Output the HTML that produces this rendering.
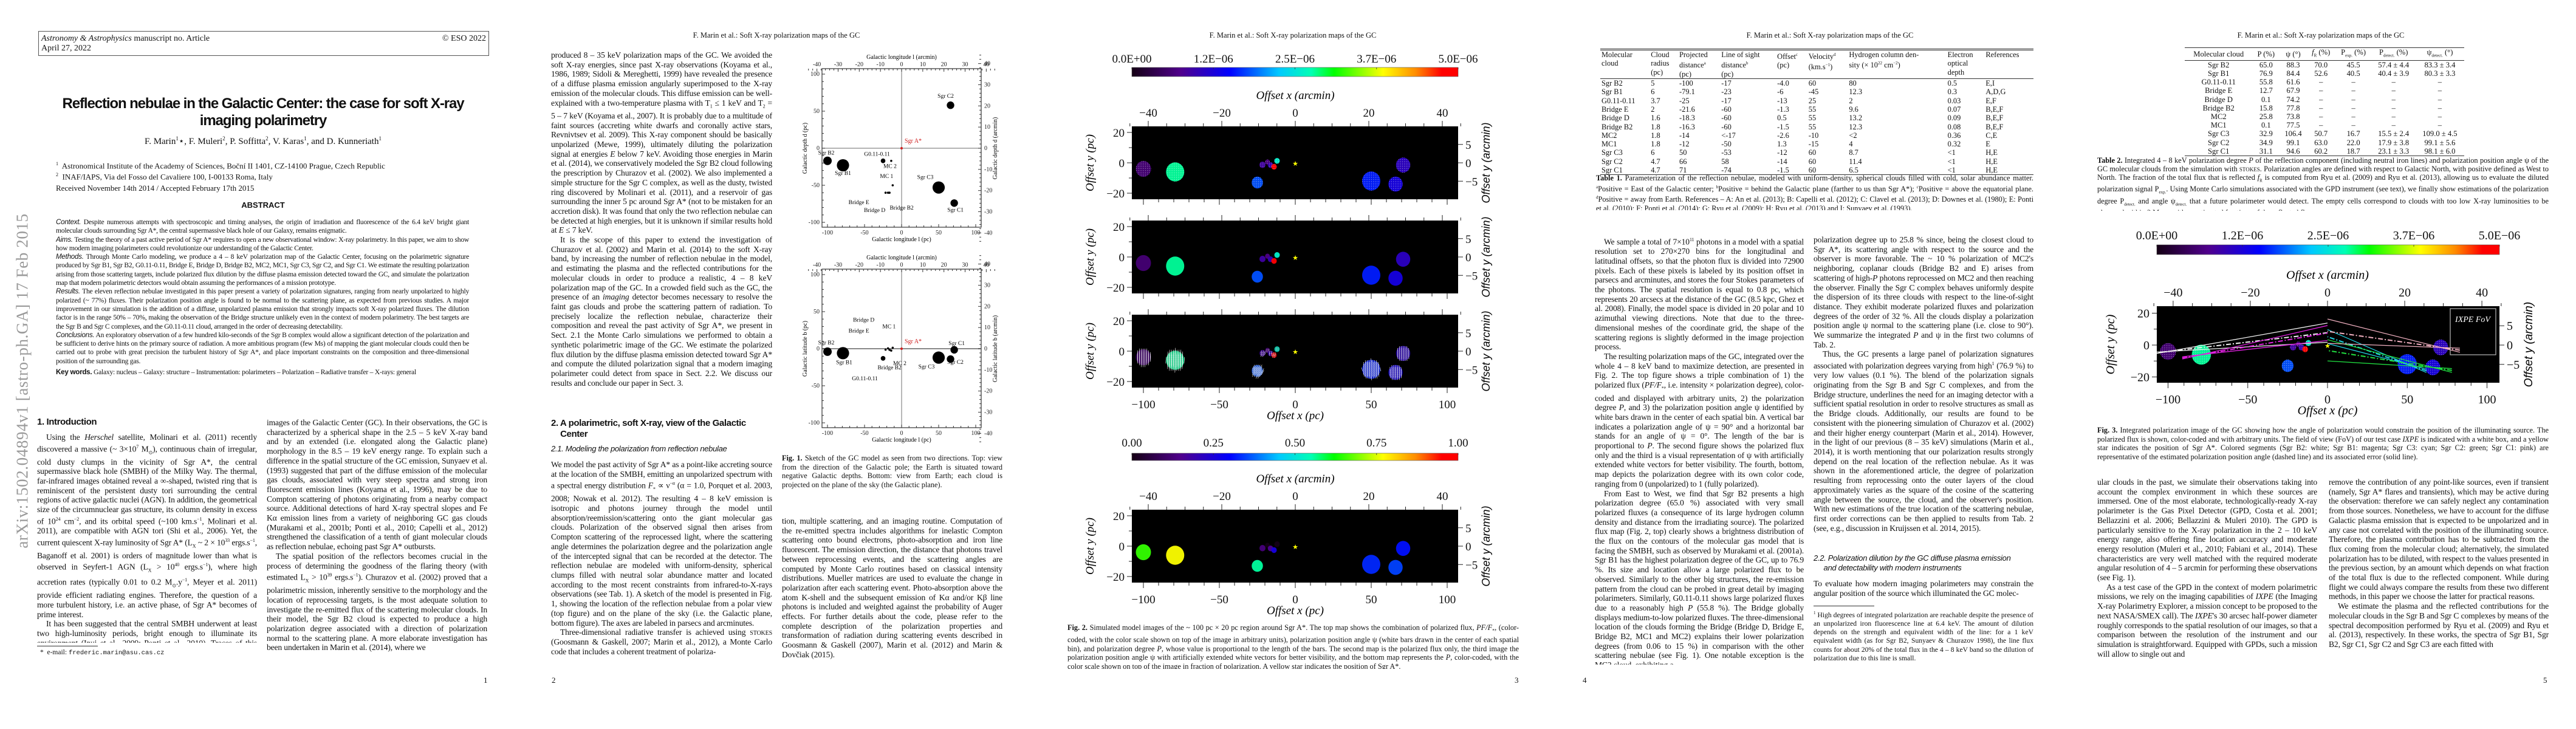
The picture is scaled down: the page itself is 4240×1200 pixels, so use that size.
<!DOCTYPE html>
<html><head><meta charset="utf-8">
<style>
html,body{margin:0;padding:0;background:#fff;}
body{width:4240px;height:1200px;position:relative;overflow:hidden;font-family:"Liberation Serif",serif;color:#111;}
.a{position:absolute;}
.col{position:absolute;font:13.6px/15.7px "Liberation Serif",serif;text-align:justify;overflow:hidden;letter-spacing:-0.15px;}
.col p{margin:0;text-indent:1.1em;}
.col p.ni{text-indent:0;}
.hdr{position:absolute;font:12.5px "Liberation Serif",serif;white-space:nowrap;transform:translateX(-50%);}
.pn{position:absolute;font:13px "Liberation Serif",serif;}
.cap{position:absolute;font:12.3px/14.6px "Liberation Serif",serif;text-align:justify;overflow:hidden;}
.sec{position:absolute;font:bold 15px/18px "Liberation Sans",sans-serif;letter-spacing:-0.4px;}
.sub{position:absolute;font:italic 13px/16px "Liberation Sans",sans-serif;letter-spacing:-0.3px;}
table{border-collapse:collapse;}
.t1{position:absolute;font:12.4px/14.3px "Liberation Serif",serif;border-top:3px double #333;border-bottom:1px solid #333;}
.t1 td{padding:0 2px;vertical-align:top;white-space:nowrap;}
.t1 tr.h td{border-bottom:1px solid #333;}
.t2{position:absolute;font:12.6px/14.2px "Liberation Serif",serif;border-top:1.5px solid #333;border-bottom:1.5px solid #333;}
.t2 td{padding:0 4px;text-align:center;white-space:nowrap;}
.t2 tr.h td{border-bottom:1px solid #333;}
</style></head>
<body>

<!-- ================= PAGE 1 ================= -->
<div class="a" style="left:63px;top:51px;width:740px;height:39px;border:1px solid #555;font:14px/17px 'Liberation Serif',serif;">
  <div class="a" style="left:4px;top:3px;"><i>Astronomy &amp; Astrophysics</i> manuscript no. Article</div>
  <div class="a" style="left:4px;top:19px;">April 27, 2022</div>
  <div class="a" style="right:4px;top:3px;">© ESO 2022</div>
</div>
<div class="a" style="left:37px;top:627px;width:0;height:0;">
  <div style="position:absolute;left:0;top:0;transform:translate(-50%,-50%) rotate(-90deg);white-space:nowrap;font:27px 'Liberation Serif',serif;color:#9a9a9a;letter-spacing:0.6px;">arXiv:1502.04894v1  [astro-ph.GA]  17 Feb 2015</div>
</div>
<div class="a" style="left:60px;top:157px;width:746px;text-align:center;font:bold 24px/28px 'Liberation Sans',sans-serif;letter-spacing:-1.1px;">Reflection nebulae in the Galactic Center: the case for soft X-ray imaging polarimetry</div>
<div class="a" style="left:60px;top:223px;width:746px;text-align:center;font:15px 'Liberation Serif',serif;">F. Marin<sup style="font-size:9px">1</sup>⋆, F. Muleri<sup style="font-size:9px">2</sup>, P. Soffitta<sup style="font-size:9px">2</sup>, V. Karas<sup style="font-size:9px">1</sup>, and D. Kunneriath<sup style="font-size:9px">1</sup></div>
<div class="a" style="left:92px;top:262px;font:13px/15px 'Liberation Serif',serif;">
<div><sup style="font-size:8px">1</sup>&nbsp; Astronomical Institute of the Academy of Sciences, Boční II 1401, CZ-14100 Prague, Czech Republic</div>
<div><sup style="font-size:8px">2</sup>&nbsp; INAF/IAPS, Via del Fosso del Cavaliere 100, I-00133 Roma, Italy</div></div>
<div class="a" style="left:92px;top:302px;font:13px 'Liberation Serif',serif;">Received November 14th 2014 / Accepted February 17th 2015</div>
<div class="a" style="left:60px;top:330px;width:746px;text-align:center;font:bold 13px 'Liberation Sans',sans-serif;">ABSTRACT</div>
<div class="col" style="left:92px;top:359px;width:680px;height:300px;font-size:11.6px;line-height:14.3px;letter-spacing:-0.25px;">
<p class="ni"><i style="font-family:'Liberation Sans'">Context.</i> Despite numerous attempts with spectroscopic and timing analyses, the origin of irradiation and fluorescence of the 6.4 keV bright giant molecular clouds surrounding Sgr A*, the central supermassive black hole of our Galaxy, remains enigmatic.</p>
<p class="ni"><i style="font-family:'Liberation Sans'">Aims.</i> Testing the theory of a past active period of Sgr A* requires to open a new observational window: X-ray polarimetry. In this paper, we aim to show how modern imaging polarimeters could revolutionize our understanding of the Galactic Center.</p>
<p class="ni"><i style="font-family:'Liberation Sans'">Methods.</i> Through Monte Carlo modeling, we produce a 4 – 8 keV polarization map of the Galactic Center, focusing on the polarimetric signature produced by Sgr B1, Sgr B2, G0.11-0.11, Bridge E, Bridge D, Bridge B2, MC2, MC1, Sgr C3, Sgr C2, and Sgr C1. We estimate the resulting polarization arising from those scattering targets, include polarized flux dilution by the diffuse plasma emission detected toward the GC, and simulate the polarization map that modern polarimetric detectors would obtain assuming the performances of a mission prototype.</p>
<p class="ni"><i style="font-family:'Liberation Sans'">Results.</i> The eleven reflection nebulae investigated in this paper present a variety of polarization signatures, ranging from nearly unpolarized to highly polarized (~ 77%) fluxes. Their polarization position angle is found to be normal to the scattering plane, as expected from previous studies. A major improvement in our simulation is the addition of a diffuse, unpolarized plasma emission that strongly impacts soft X-ray polarized fluxes. The dilution factor is in the range 50% – 70%, making the observation of the Bridge structure unlikely even in the context of modern polarimetry. The best targets are the Sgr B and Sgr C complexes, and the G0.11-0.11 cloud, arranged in the order of decreasing detectability.</p>
<p class="ni"><i style="font-family:'Liberation Sans'">Conclusions.</i> An exploratory observation of a few hundred kilo-seconds of the Sgr B complex would allow a significant detection of the polarization and be sufficient to derive hints on the primary source of radiation. A more ambitious program (few Ms) of mapping the giant molecular clouds could then be carried out to probe with great precision the turbulent history of Sgr A*, and place important constraints on the composition and three-dimensional position of the surrounding gas.</p>
<p class="ni" style="margin-top:4px"><b style="font-family:'Liberation Sans'">Key words.</b> Galaxy: nucleus – Galaxy: structure – Instrumentation: polarimeters – Polarization – Radiative transfer – X-rays: general</p>
</div>
<div class="sec" style="left:61px;top:686px;">1. Introduction</div>
<div class="col" style="left:61px;top:712px;width:362px;height:346px;">
<p>Using the <i>Herschel</i> satellite, Molinari et al. (2011) recently discovered a massive (~ 3×10<sup style="font-size:8px">7</sup> M<sub style="font-size:8px">⊙</sub>), continuous chain of irregular, cold dusty clumps in the vicinity of Sgr A*, the central supermassive black hole (SMBH) of the Milky Way. The thermal, far-infrared images obtained reveal a ∞-shaped, twisted ring that is reminiscent of the persistent dusty tori surrounding the central regions of active galactic nuclei (AGN). In addition, the geometrical size of the circumnuclear gas structure, its column density in excess of 10<sup style="font-size:8px">24</sup> cm<sup style="font-size:8px">−2</sup>, and its orbital speed (~100 km.s<sup style="font-size:8px">−1</sup>, Molinari et al. 2011), are compatible with AGN tori (Shi et al., 2006). Yet, the current quiescent X-ray luminosity of Sgr A* (L<sub style="font-size:8px">X</sub> ~ 2 × 10<sup style="font-size:8px">33</sup> ergs.s<sup style="font-size:8px">−1</sup>, Baganoff et al. 2001) is orders of magnitude lower than what is observed in Seyfert-1 AGN (L<sub style="font-size:8px">X</sub> &gt; 10<sup style="font-size:8px">40</sup> ergs.s<sup style="font-size:8px">−1</sup>), where high accretion rates (typically 0.01 to 0.2 M<sub style="font-size:8px">⊙</sub>.y<sup style="font-size:8px">−1</sup>, Meyer et al. 2011) provide efficient radiating engines. Therefore, the question of a more turbulent history, i.e. an active phase, of Sgr A* becomes of prime interest.</p>
<p>It has been suggested that the central SMBH underwent at least two high-luminosity periods, bright enough to illuminate its environment (Inui et al., 2009; Ponti et al., 2010). Traces of this potential activity can be found from the epoch of <i>Granat</i>, when Sunyaev et al. (1993) provided broadband 15′ resolution</p>
</div>
<div class="col" style="left:439px;top:688px;width:363px;height:393px;">
<p class="ni">images of the Galactic Center (GC). In their observations, the GC is characterized by a spherical shape in the 2.5 – 5 keV X-ray band and by an extended (i.e. elongated along the Galactic plane) morphology in the 8.5 – 19 keV energy range. To explain such a difference in the spatial structure of the GC emission, Sunyaev et al. (1993) suggested that part of the diffuse emission of the molecular gas clouds, associated with very steep spectra and strong iron fluorescent emission lines (Koyama et al., 1996), may be due to Compton scattering of photons originating from a nearby compact source. Additional detections of hard X-ray spectral slopes and Fe Kα emission lines from a variety of neighboring GC gas clouds (Murakami et al., 2001b; Ponti et al., 2010; Capelli et al., 2012) strengthened the classification of a tenth of giant molecular clouds as reflection nebulae, echoing past Sgr A* outbursts.</p>
<p>The spatial position of the reflectors becomes crucial in the process of determining the goodness of the flaring theory (with estimated L<sub style="font-size:8px">X</sub> &gt; 10<sup style="font-size:8px">39</sup> ergs.s<sup style="font-size:8px">−1</sup>). Churazov et al. (2002) proved that a polarimetric mission, inherently sensitive to the morphology and the location of reprocessing targets, is the most adequate solution to investigate the re-emitted flux of the scattering molecular clouds. In their model, the Sgr B2 cloud is expected to produce a high polarization degree associated with a direction of polarization normal to the scattering plane. A more elaborate investigation has been undertaken in Marin et al. (2014), where we</p>
</div>
<div class="a" style="left:61px;top:1063px;width:100px;border-top:1px solid #333;"></div>
<div class="a" style="left:66px;top:1068px;font:11.5px 'Liberation Serif',serif;">* &nbsp;e-mail: <span style="font-family:'Liberation Mono',monospace;font-size:10.5px">frederic.marin@asu.cas.cz</span></div>
<div class="pn" style="left:796px;top:1112px;">1</div>

<!-- ================= PAGE 2 ================= -->
<div class="hdr" style="left:1278px;top:51px;">F. Marin et al.: Soft X-ray polarization maps of the GC</div>
<div class="col" style="left:907px;top:83px;width:364px;height:581px;">
<p class="ni">produced 8 – 35 keV polarization maps of the GC. We avoided the soft X-ray energies, since past X-ray observations (Koyama et al., 1986, 1989; Sidoli &amp; Mereghetti, 1999) have revealed the presence of a diffuse plasma emission angularly superimposed to the X-ray emission of the molecular clouds. This diffuse emission can be well-explained with a two-temperature plasma with T<sub style="font-size:8px">1</sub> ≤ 1 keV and T<sub style="font-size:8px">2</sub> = 5 – 7 keV (Koyama et al., 2007). It is probably due to a multitude of faint sources (accreting white dwarfs and coronally active stars, Revnivtsev et al. 2009). This X-ray component should be basically unpolarized (Mewe, 1999), ultimately diluting the polarization signal at energies <i>E</i> below 7 keV. Avoiding those energies in Marin et al. (2014), we conservatively modeled the Sgr B2 cloud following the prescription by Churazov et al. (2002). We also implemented a simple structure for the Sgr C complex, as well as the dusty, twisted ring discovered by Molinari et al. (2011), and a reservoir of gas surrounding the inner 5 pc around Sgr A* (not to be mistaken for an accretion disk). It was found that only the two reflection nebulae can be detected at high energies, but it is unknown if similar results hold at <i>E</i> ≤ 7 keV.</p>
<p>It is the scope of this paper to extend the investigation of Churazov et al. (2002) and Marin et al. (2014) to the soft X-ray band, by increasing the number of reflection nebulae in the model, and estimating the plasma and the reflected contributions for the molecular clouds in order to produce a realistic, 4 – 8 keV polarization map of the GC. In a crowded field such as the GC, the presence of an <i>imaging</i> detector becomes necessary to resolve the faint gas clouds and probe the scattering pattern of radiation. To precisely localize the reflection nebulae, characterize their composition and reveal the past activity of Sgr A*, we present in Sect. 2.1 the Monte Carlo simulations we performed to obtain a synthetic polarimetric image of the GC. We estimate the polarized flux dilution by the diffuse plasma emission detected toward Sgr A* and compute the diluted polarization signal that a modern imaging polarimeter could detect from space in Sect. 2.2. We discuss our results and conclude our paper in Sect. 3.</p>
</div>
<div class="sec" style="left:907px;top:688px;width:330px;">2. A polarimetric, soft X-ray, view of the Galactic<br>&nbsp;&nbsp;&nbsp;&nbsp;Center</div>
<div class="sub" style="left:907px;top:731px;">2.1. Modeling the polarization from reflection nebulae</div>
<div class="col" style="left:907px;top:757px;width:364px;height:330px;">
<p class="ni">We model the past activity of Sgr A* as a point-like accreting source at the location of the SMBH, emitting an unpolarized spectrum with a spectral energy distribution <i>F</i><sub style="font-size:8px">*</sub> ∝ ν<sup style="font-size:8px">−α</sup> (α = 1.0, Porquet et al. 2003, 2008; Nowak et al. 2012). The resulting 4 – 8 keV emission is isotropic and photons journey through the model until absorption/reemission/scattering onto the giant molecular gas clouds. Polarization of the observed signal then arises from Compton scattering of the reprocessed light, where the scattering angle determines the polarization degree and the polarization angle of the intercepted signal that can be recorded at the detector. The reflection nebulae are modeled with uniform-density, spherical clumps filled with neutral solar abundance matter and located according to the most recent constraints from infrared-to-X-rays observations (see Tab. 1). A sketch of the model is presented in Fig. 1, showing the location of the reflection nebulae from a polar view (top figure) and on the plane of the sky (i.e. the Galactic plane, bottom figure). The axes are labeled in parsecs and arcminutes.</p>
<p>Three-dimensional radiative transfer is achieved using <span style="font-variant:small-caps">stokes</span> (Goosmann &amp; Gaskell, 2007; Marin et al., 2012), a Monte Carlo code that includes a coherent treatment of polariza-</p>
</div>
<div class="cap" style="left:1287px;top:747px;width:363px;height:60px;"><b>Fig. 1.</b> Sketch of the GC model as seen from two directions. Top: view from the direction of the Galactic pole; the Earth is situated toward negative Galactic depths. Bottom: view from Earth; each cloud is projected on the plane of the sky (the Galactic plane).</div>
<div class="col" style="left:1287px;top:850px;width:363px;height:236px;">
<p class="ni">tion, multiple scattering, and an imaging routine. Computation of the re-emitted spectra includes algorithms for inelastic Compton scattering onto bound electrons, photo-absorption and iron line fluorescent. The emission direction, the distance that photons travel between reprocessing events, and the scattering angles are computed by Monte Carlo routines based on classical intensity distributions. Mueller matrices are used to evaluate the change in polarization after each scattering event. Photo-absorption above the atom K-shell and the subsequent emission of Kα and/or Kβ line photons is included and weighted against the probability of Auger effects. For further details about the code, please refer to the complete description of the polarization properties and transformation of radiation during scattering events described in Goosmann &amp; Gaskell (2007), Marin et al. (2012) and Marin &amp; Dovčiak (2015).</p>
</div>
<div class="pn" style="left:908px;top:1112px;">2</div>

<!-- ================= PAGE 3 ================= -->
<div class="hdr" style="left:2128px;top:51px;">F. Marin et al.: Soft X-ray polarization maps of the GC</div>
<div class="cap" style="left:1757px;top:1026px;width:743px;height:75px;"><b>Fig. 2.</b> Simulated model images of the ~ 100 pc × 20 pc region around Sgr A*. The top map shows the combination of polarized flux, <i>PF/F</i><sub style="font-size:8px">*</sub>, (color-coded, with the color scale shown on top of the image in arbitrary units), polarization position angle ψ (white bars drawn in the center of each spatial bin), and polarization degree <i>P</i>, whose value is proportional to the length of the bars. The second map is the polarized flux only, the third image the polarization position angle ψ with artificially extended white vectors for better visibility, and the bottom map represents the <i>P</i>, color-coded, with the color scale shown on top of the image in fraction of polarization. A yellow star indicates the position of Sgr A*.</div>
<div class="pn" style="left:2493px;top:1112px;">3</div>

<!-- ================= PAGE 4 ================= -->
<div class="hdr" style="left:3012px;top:51px;">F. Marin et al.: Soft X-ray polarization maps of the GC</div>
<table class="t1" style="left:2634px;top:80px;width:713px;">
<tr class="h"><td>Molecular<br>cloud</td><td>Cloud<br>radius<br>(pc)</td><td>Projected<br>distance<sup style="font-size:7px">a</sup><br>(pc)</td><td>Line of sight<br>distance<sup style="font-size:7px">b</sup><br>(pc)</td><td>Offset<sup style="font-size:7px">c</sup><br>(pc)</td><td>Velocity<sup style="font-size:7px">d</sup><br>(km.s<sup style="font-size:7px">−1</sup>)</td><td>Hydrogen column den-<br>sity (× 10<sup style="font-size:7px">22</sup> cm<sup style="font-size:7px">−2</sup>)</td><td>Electron<br>optical<br>depth</td><td>References</td></tr>
<tbody id="t1body"></tbody>
</table>
<div class="cap" style="left:2627px;top:286px;width:720px;height:60px;"><b>Table 1.</b> Parameterization of the reflection nebulae, modeled with uniform-density, spherical clouds filled with cold, solar abundance matter. <sup style="font-size:7px">a</sup>Positive = East of the Galactic center; <sup style="font-size:7px">b</sup>Positive = behind the Galactic plane (farther to us than Sgr A*); <sup style="font-size:7px">c</sup>Positive = above the equatorial plane. <sup style="font-size:7px">d</sup>Positive = away from Earth. References – A: An et al. (2013); B: Capelli et al. (2012); C: Clavel et al. (2013); D: Downes et al. (1980); E: Ponti et al. (2010); F: Ponti et al. (2014); G: Ryu et al. (2009); H: Ryu et al. (2013) and I: Sunyaev et al. (1993).</div>
<div class="col" style="left:2625px;top:387px;width:344px;height:707px;">
<p>We sample a total of 7×10<sup style="font-size:8px">11</sup> photons in a model with a spatial resolution set to 270×270 bins for the longitudinal and latitudinal offsets, so that the photon flux is divided into 72900 pixels. Each of these pixels is labeled by its position offset in parsecs and arcminutes, and stores the four Stokes parameters of the photons. The spatial resolution is equal to 0.8 pc, which represents 20 arcsecs at the distance of the GC (8.5 kpc, Ghez et al. 2008). Finally, the model space is divided in 20 polar and 10 azimuthal viewing directions. Note that due to the three-dimensional meshes of the coordinate grid, the shape of the scattering regions is slightly deformed in the image projection process.</p>
<p>The resulting polarization maps of the GC, integrated over the whole 4 – 8 keV band to maximize detection, are presented in Fig. 2. The top figure shows a triple combination of 1) the polarized flux (<i>PF/F</i><sub style="font-size:8px">*</sub>, i.e. intensity × polarization degree), color-coded and displayed with arbitrary units, 2) the polarization degree <i>P</i>, and 3) the polarization position angle ψ identified by white bars drawn in the center of each spatial bin. A vertical bar indicates a polarization angle of ψ = 90° and a horizontal bar stands for an angle of ψ = 0°. The length of the bar is proportional to <i>P</i>. The second figure shows the polarized flux only and the third is a visual representation of ψ with artificially extended white vectors for better visibility. The fourth, bottom, map depicts the polarization degree with its own color code, ranging from 0 (unpolarized) to 1 (fully polarized).</p>
<p>From East to West, we find that Sgr B2 presents a high polarization degree (65.0 %) associated with very small polarized fluxes (a consequence of its large hydrogen column density and distance from the irradiating source). The polarized flux map (Fig. 2, top) clearly shows a brightness distribution of the flux on the contours of the molecular gas model that is facing the SMBH, such as observed by Murakami et al. (2001a). Sgr B1 has the highest polarization degree of the GC, up to 76.9 %. Its size and location allow a large polarized flux to be observed. Similarly to the other big structures, the re-emission pattern from the cloud can be probed in great detail by imaging polarimeters. Similarly, G0.11-0.11 shows large polarized fluxes due to a reasonably high <i>P</i> (55.8 %). The Bridge globally displays medium-to-low polarized fluxes. The three-dimensional location of the clouds forming the Bridge (Bridge D, Bridge E, Bridge B2, MC1 and MC2) explains their lower polarization degrees (from 0.06 to 15 %) in comparison with the other scattering nebulae (see Fig. 1). One notable exception is the MC2 cloud, exhibiting a</p>
</div>
<div class="col" style="left:2985px;top:387px;width:362px;height:502px;">
<p class="ni">polarization degree up to 25.8 % since, being the closest cloud to Sgr A*, its scattering angle with respect to the source and the observer is more favorable. The ~ 10 % polarization of MC2's neighboring, coplanar clouds (Bridge B2 and E) arises from scattering of high-<i>P</i> photons reprocessed on MC2 and then reaching the observer. Finally the Sgr C complex behaves uniformly despite the dispersion of its three clouds with respect to the line-of-sight distance. They exhibit moderate polarized fluxes and polarization degrees of the order of 32 %. All the clouds display a polarization position angle ψ normal to the scattering plane (i.e. close to 90°). We summarize the integrated <i>P</i> and ψ in the first two columns of Tab. 2.</p>
<p>Thus, the GC presents a large panel of polarization signatures associated with polarization degrees varying from high<sup style="font-size:8px">1</sup> (76.9 %) to very low values (0.1 %). The blend of the polarization signals originating from the Sgr B and Sgr C complexes, and from the Bridge structure, underlines the need for an imaging detector with a sufficient spatial resolution in order to resolve structures as small as the Bridge clouds. Additionally, our results are found to be consistent with the pioneering simulation of Churazov et al. (2002) and their higher energy counterpart (Marin et al., 2014). However, in the light of our previous (8 – 35 keV) simulations (Marin et al., 2014), it is worth mentioning that our polarization results strongly depend on the real location of the reflection nebulae. As it was shown in the aforementioned article, the degree of polarization resulting from reprocessing onto the outer layers of the cloud approximately varies as the square of the cosine of the scattering angle between the source, the cloud, and the observer's position. With new estimations of the true location of the scattering nebulae, first order corrections can be then applied to results from Tab. 2 (see, e.g., discussion in Kruijssen et al. 2014, 2015).</p>
</div>
<div class="sub" style="left:2985px;top:911px;width:362px;">2.2. Polarization dilution by the GC diffuse plasma emission<br>&nbsp;&nbsp;&nbsp;&nbsp;&nbsp;and detectability with modern instruments</div>
<div class="col" style="left:2985px;top:953px;width:362px;height:32px;">
<p class="ni">To evaluate how modern imaging polarimeters may constrain the angular position of the source which illuminated the GC molec-</p>
</div>
<div class="a" style="left:2985px;top:997px;width:100px;border-top:1px solid #333;"></div>
<div class="cap" style="left:2985px;top:1002px;width:362px;height:86px;font-size:11.6px;line-height:14.2px;"><sup style="font-size:7px">1</sup> High degrees of integrated polarization are reachable despite the presence of an unpolarized iron fluorescence line at 6.4 keV. The amount of dilution depends on the strength and equivalent width of the line: for a 1 keV equivalent width (as for Sgr B2, Sunyaev &amp; Churazov 1998), the line flux counts for about 20% of the total flux in the 4 – 8 keV band so the dilution of polarization due to this line is small.</div>
<div class="pn" style="left:2605px;top:1112px;">4</div>

<!-- ================= PAGE 5 ================= -->
<div class="hdr" style="left:3820px;top:51px;">F. Marin et al.: Soft X-ray polarization maps of the GC</div>
<table class="t2" style="left:3596px;top:78px;width:460px;">
<tr class="h"><td>Molecular cloud</td><td>P (%)</td><td>ψ (°)</td><td><i>f</i><sub style="font-size:7px">R</sub> (%)</td><td>P<sub style="font-size:7px">exp.</sub> (%)</td><td>P<sub style="font-size:7px">detect.</sub> (%)</td><td>ψ<sub style="font-size:7px">detect.</sub> (°)</td></tr>
<tbody id="t2body"></tbody>
</table>
<div class="cap" style="left:3452px;top:257px;width:743px;height:90px;font-size:12.3px;line-height:14px;"><b>Table 2.</b> Integrated 4 – 8 keV polarization degree <i>P</i> of the reflection component (including neutral iron lines) and polarization position angle ψ of the GC molecular clouds from the simulation with <span style="font-variant:small-caps">stokes</span>. Polarization angles are defined with respect to Galactic North, with positive defined as West to North. The fraction of the total flux that is reflected <i>f</i><sub style="font-size:7px">R</sub> is computed from Ryu et al. (2009) and Ryu et al. (2013), allowing us to evaluate the diluted polarization signal P<sub style="font-size:7px">exp.</sub>. Using Monte Carlo simulations associated with the GPD instrument (see text), we finally show estimations of the polarization degree P<sub style="font-size:7px">detect.</sub> and angle ψ<sub style="font-size:7px">detect.</sub> that a future polarimeter would detect. The empty cells correspond to clouds with too low X-ray luminosities to be observed within 3 Ms or with unestimated fractions of the reflected flux.</div>
<div class="cap" style="left:3452px;top:701px;width:743px;height:60px;"><b>Fig. 3.</b> Integrated polarization image of the GC showing how the angle of polarization would constrain the position of the illuminating source. The polarized flux is shown, color-coded and with arbitrary units. The field of view (FoV) of our test case <i>IXPE</i> is indicated with a white box, and a yellow star indicates the position of Sgr A*. Colored segments (Sgr B2: white; Sgr B1: magenta; Sgr C3: cyan; Sgr C2: green; Sgr C1: pink) are representative of the estimated polarization position angle (dashed line) and its associated error (solid line).</div>
<div class="col" style="left:3452px;top:786px;width:362px;height:299px;">
<p class="ni">ular clouds in the past, we simulate their observations taking into account the complex environment in which these sources are immersed. One of the most elaborate, technologically-ready X-ray polarimeter is the Gas Pixel Detector (GPD, Costa et al. 2001; Bellazzini et al. 2006; Bellazzini &amp; Muleri 2010). The GPD is particularly sensitive to the X-ray polarization in the 2 – 10 keV energy range, also offering fine location accuracy and moderate energy resolution (Muleri et al., 2010; Fabiani et al., 2014). These characteristics are very well matched with the required moderate angular resolution of 4 – 5 arcmin for performing these observations (see Fig. 1).</p>
<p>As a test case of the GPD in the context of modern polarimetric missions, we rely on the imaging capabilities of <i>IXPE</i> (the Imaging X-ray Polarimetry Explorer, a mission concept to be proposed to the next NASA/SMEX call). The <i>IXPE</i>'s 30 arcsec half-power diameter roughly corresponds to the spatial resolution of our images, so that a comparison between the resolution of the instrument and our simulation is straightforward. Equipped with GPDs, such a mission will allow to single out and</p>
</div>
<div class="col" style="left:3833px;top:786px;width:362px;height:299px;">
<p class="ni">remove the contribution of any point-like sources, even if transient (namely, Sgr A* flares and transients), which may be active during the observation: therefore we can safely neglect any contamination from those sources. Nonetheless, we have to account for the diffuse Galactic plasma emission that is expected to be unpolarized and in any case not correlated with the position of the illuminating source. Therefore, the plasma contribution has to be subtracted from the flux coming from the molecular cloud; alternatively, the simulated polarization has to be diluted, with respect to the values presented in the previous section, by an amount which depends on what fraction of the total flux is due to the reflected component. While during flight we could always compare the results from these two different methods, in this paper we choose the latter for practical reasons.</p>
<p>We estimate the plasma and the reflected contributions for the molecular clouds in the Sgr B and Sgr C complexes by means of the spectral decomposition performed by Ryu et al. (2009) and Ryu et al. (2013), respectively. In these works, the spectra of Sgr B1, Sgr B2, Sgr C1, Sgr C2 and Sgr C3 are each fitted with</p>
</div>
<div class="pn" style="left:4186px;top:1112px;">5</div>

<svg id="figs" class="a" style="left:0;top:0;" width="4240" height="1200" xmlns="http://www.w3.org/2000/svg">
<defs>
<linearGradient id="cbgrad" x1="0" x2="1" y1="0" y2="0">
<stop offset="0" stop-color="#140014"/><stop offset="0.15" stop-color="#50008c"/><stop offset="0.3" stop-color="#0000ff"/><stop offset="0.45" stop-color="#00c8ff"/><stop offset="0.55" stop-color="#00ffb4"/><stop offset="0.62" stop-color="#00ff00"/><stop offset="0.77" stop-color="#ffff00"/><stop offset="0.87" stop-color="#ff8c00"/><stop offset="0.95" stop-color="#ff0000"/><stop offset="1" stop-color="#ff0000"/>
</linearGradient>
<pattern id="dots" width="3" height="3" patternUnits="userSpaceOnUse"><rect x="1" y="1" width="1" height="1" fill="#fff" opacity="0.55"/></pattern>
</defs>
</svg>

<script>
// ---------------- DATA ----------------
const clouds = ["Sgr B2","Sgr B1","G0.11-0.11","Bridge E","Bridge D","Bridge B2","MC2","MC1","Sgr C3","Sgr C2","Sgr C1"];
const cloudRadius = [5, 6, 3.7, 2.0, 1.6, 1.8, 1.8, 1.8, 6, 4.7, 4.7];
const projDist = [-100, -79.1, -25, -21.6, -18.3, -16.3, -14, -12, 50, 66, 71];
const losDist = [-17, -23, -17, -60, -60, -60, -17, -50, -53, 58, -74];
const offsetY = [-4.0, -6, -13, -1.3, 0.5, -1.5, -2.6, 1.3, -12, -14, -1.5];
const velocity = ["60","-45","25","55","55","55","-10","-15","60","60","60"];
const columnDensity = ["80","12.3","2","9.6","13.2","12.3","<2","4","8.7","11.4","6.5"];
const opticalDepth = ["0.5","0.3","0.03","0.07","0.09","0.08","0.36","0.32","<1","<1","<1"];
const references = ["E,I","A,D,G","E,F","B,E,F","B,E,F","B,E,F","C,E","E","H,E","H,E","H,E"];
const losLabels = ["-17","-23","-17","-60","-60","-60","<-17","-50","-53","58","-74"];
const polFlux = [0.6e-6, 2.8e-6, 1.8e-6, 0.9e-6, 0.7e-6, 1.0e-6, 5.0e-6, 2.6e-6, 1.6e-6, 1.3e-6, 1.1e-6];
const polDeg = [65.0, 76.9, 55.8, 12.7, 0.1, 15.8, 25.8, 0.1, 32.9, 34.9, 31.1];
const polAngle = [88.3, 84.4, 61.6, 67.9, 74.2, 77.8, 73.8, 77.5, 106.4, 99.1, 94.6];
const reflFrac = ["70.0","52.6","–","–","–","–","–","–","50.7","63.0","60.2"];
const pExp = ["45.5","40.5","–","–","–","–","–","–","16.7","22.0","18.7"];
const pDetect = ["57.4 ± 4.4","40.4 ± 3.9","–","–","–","–","–","–","15.5 ± 2.4","17.9 ± 3.8","23.1 ± 3.3"];
const psiDetectLabel = ["83.3 ± 3.4","80.3 ± 3.3","–","–","–","–","–","–","109.0 ± 4.5","99.1 ± 5.6","98.1 ± 6.0"];
const detectIdx = [0, 1, 8, 9, 10];
const detectAngle = [83.3, 80.3, 109.0, 99.1, 98.1];
const detectErr = [3.4, 3.3, 4.5, 5.6, 6.0];
const detectColor = ["#f0f0f0", "#e020e0", "#20d0e0", "#20e040", "#f0b0c0"];
const pcTicks = [-100, -50, 0, 50, 100];
const arcTicks = [-40, -20, 0, 20, 40];
const yPcTicks = [20, 0, -20];
const yArcTicks = [5, 0, -5];
const fluxTickLabels = ["0.0E+00", "1.2E−06", "2.5E−06", "3.7E−06", "5.0E−06"];
const degTickLabels = ["0.00", "0.25", "0.50", "0.75", "1.00"];
const fig1PcTicks = [-100, -50, 0, 50, 100];
const fig1ArcTicks = [-40, -30, -20, -10, 0, 10, 20, 30, 40];
const pcPerArcmin = 2.42;

// ---------------- TABLES ----------------
const t1 = document.getElementById('t1body');
clouds.forEach((c, i) => {
  const tr = document.createElement('tr');
  
  
  [c, String(cloudRadius[i].toFixed(cloudRadius[i] % 1 ? 1 : 0)), String(projDist[i]), losLabels[i], offsetY[i].toFixed(i === 0 ? 1 : (offsetY[i] % 1 ? 1 : 0)), velocity[i], columnDensity[i], opticalDepth[i], references[i]].forEach(v => {
    const td = document.createElement('td'); td.textContent = v; tr.appendChild(td);
  });
  t1.appendChild(tr);
});
const t2 = document.getElementById('t2body');
clouds.forEach((c, i) => {
  const tr = document.createElement('tr');
  
  
  [c, polDeg[i].toFixed(1), polAngle[i].toFixed(1), reflFrac[i], pExp[i], pDetect[i], psiDetectLabel[i]].forEach(v => {
    const td = document.createElement('td'); td.textContent = v; tr.appendChild(td);
  });
  t2.appendChild(tr);
});

// ---------------- SVG HELPERS ----------------
const NS = 'http://www.w3.org/2000/svg';
const svg = document.getElementById('figs');
function mk(tag, attrs, parent) {
  const e = document.createElementNS(NS, tag);
  for (const k in attrs) e.setAttribute(k, attrs[k]);
  (parent || svg).appendChild(e);
  return e;
}
function txt(x, y, s, attrs, parent) {
  const e = mk('text', Object.assign({x: x, y: y}, attrs), parent);
  e.textContent = s;
  return e;
}
const cstops = [[0,[20,0,20]],[0.15,[80,0,140]],[0.3,[0,0,255]],[0.45,[0,200,255]],[0.55,[0,255,180]],[0.62,[0,255,0]],[0.77,[255,255,0]],[0.87,[255,140,0]],[0.95,[255,0,0]],[1,[255,0,0]]];
function cmap(v) {
  v = Math.max(0, Math.min(1, v));
  for (let k = 1; k < cstops.length; k++) {
    if (v <= cstops[k][0]) {
      const a = cstops[k-1], b = cstops[k], t = (v - a[0]) / (b[0] - a[0] || 1);
      const c = a[1].map((q, j) => Math.round(q + (b[1][j] - q) * t));
      return 'rgb(' + c.join(',') + ')';
    }
  }
  return 'rgb(255,0,0)';
}
const SERIF = "Liberation Serif, serif";

// ---------------- FIGURE 1 ----------------
function drawFig1(top, yData, yTitle, yArcTitle, which) {
  const L = 1353, R = 1615, T = top, B = top + 261, cx = 1484, cy = top + 131, s = 1.22;
  const X = v => cx + v * s, Y = v => cy - v * s;
  const g = mk('g', {});
  
  
  const fr = mk('rect', {x: L, y: T, width: R - L, height: B - T, fill: 'none', stroke: '#333', 'stroke-width': 1.2}, g);
  
  
  const zx = mk('line', {x1: X(0), x2: X(0), y1: T, y2: B, stroke: '#888', 'stroke-width': 1.2}, g);
  
  
  const zy = mk('line', {x1: L, x2: R, y1: Y(0), y2: Y(0), stroke: '#888', 'stroke-width': which === 'bottom-view' ? 2 : 1.2}, g);
  
  
  for (let v = -100; v <= 100; v += 10) {
    const big = v % 50 === 0 ? 5 : 3;
    mk('line', {x1: X(v), x2: X(v), y1: B, y2: B - big, stroke: '#333'}, g);
    mk('line', {x1: L, x2: L + big, y1: Y(v), y2: Y(v), stroke: '#333'}, g);
  }
  for (let a = -44; a <= 44; a += 2) {
    const big = a % 10 === 0 ? 5 : 3;
    mk('line', {x1: X(a * pcPerArcmin * 1.18), x2: X(a * pcPerArcmin * 1.18), y1: T, y2: T + big, stroke: '#333'}, g);
    mk('line', {x1: R, x2: R - big, y1: Y(a * pcPerArcmin * 1.18), y2: Y(a * pcPerArcmin * 1.18), stroke: '#333'}, g);
  }
  fig1PcTicks.forEach(v => {
    const t = txt(X(v), B + 12, String(v), {'font-size': 10, 'font-family': SERIF, 'text-anchor': 'middle', fill: '#222'}, g);
    
    
    const t2 = txt(L - 4, Y(v) + 3, String(v), {'font-size': 10, 'font-family': SERIF, 'text-anchor': 'end', fill: '#222'}, g);
    
    
  });
  fig1ArcTicks.forEach(a => {
    const t = txt(X(a * pcPerArcmin * 1.18), T - 4, String(a), {'font-size': 10, 'font-family': SERIF, 'text-anchor': 'middle', fill: '#222'}, g);
    
    
    const t2 = txt(R + 5, Y(a * pcPerArcmin * 1.18) + 3, String(a), {'font-size': 10, 'font-family': SERIF, fill: '#222'}, g);
    
    
  });
  const xt = txt(cx, B + 23, 'Galactic longitude l (pc)', {'font-size': 10, 'font-family': SERIF, 'text-anchor': 'middle'}, g);
  
  
  const xt2 = txt(cx, T - 16, 'Galactic longitude l (arcmin)', {'font-size': 10, 'font-family': SERIF, 'text-anchor': 'middle'}, g);
  
  
  const yt = txt(0, 0, yTitle, {'font-size': 10, 'font-family': SERIF, 'text-anchor': 'middle', transform: 'translate(1328,' + cy + ') rotate(-90)'}, g);
  
  
  const yt2 = txt(0, 0, yArcTitle, {'font-size': 10, 'font-family': SERIF, 'text-anchor': 'middle', transform: 'translate(1641,' + cy + ') rotate(-90)'}, g);
  
  
  clouds.forEach((c, i) => {
    const r = Math.max(1.8, 0.28 * cloudRadius[i] * cloudRadius[i]);
    const dot = mk('circle', {cx: X(projDist[i]), cy: Y(yData[i]), r: r, fill: '#000'}, g);
    
    
  });
  const sa = mk('circle', {cx: X(0), cy: Y(0), r: 2, fill: '#d02020'}, g);
  
  
  const sl = txt(X(0) + 5, Y(0) - 9, 'Sgr A*', {'font-size': 10, 'font-family': SERIF, fill: '#d02020'}, g);
  
  
  return {g: g, X: X, Y: Y};
}
const topView = drawFig1(113, losDist, 'Galactic depth d (pc)', 'Galactic depth d (arcmin)', 'top-view');
const botView = drawFig1(443, offsetY, 'Galactic latitude b (pc)', 'Galactic latitude b (arcmin)', 'bottom-view');
const topLabelOffset = [[-2,-10],[0,16],[-10,-8],[-44,19],[-22,32],[20,28],[-2,12],[-10,-12],[-22,-14],[-8,-12],[2,14]];
const botLabelOffset = [[-2,-12],[2,18],[-30,36],[-44,-28],[-40,-44],[0,32],[14,24],[-6,-32],[-20,18],[8,8],[4,-8]];
clouds.forEach((c, i) => {
  const a = txt(topView.X(projDist[i]) + topLabelOffset[i][0], topView.Y(losDist[i]) + topLabelOffset[i][1], c.replace('MC2','MC 2').replace('MC1','MC 1'), {'font-size': 9.5, 'font-family': SERIF, 'text-anchor': 'middle'}, topView.g);
  
  
  const b = txt(botView.X(projDist[i]) + botLabelOffset[i][0], botView.Y(offsetY[i]) + botLabelOffset[i][1], c.replace('MC2','MC 2').replace('MC1','MC 1'), {'font-size': 9.5, 'font-family': SERIF, 'text-anchor': 'middle'}, botView.g);
  
  
});

// ---------------- COLORBARS ----------------
function colorbar(x1, x2, y, h, labels, labelY, size, name) {
  const r = mk('rect', {x: x1, y: y, width: x2 - x1, height: h, fill: 'url(#cbgrad)', stroke: '#555', 'stroke-width': 0.6});
  
  
  labels.forEach((l, k) => {
    const x = x1 + (x2 - x1) * k / (labels.length - 1);
    mk('line', {x1: x, x2: x, y1: y, y2: y + 3, stroke: '#333', 'stroke-width': 0.8});
    const t = txt(x, labelY, l, {'font-size': size, 'font-family': SERIF, 'text-anchor': 'middle', fill: '#111'});
    
    
  });
}
colorbar(1863, 2400, 111, 15, fluxTickLabels, 103, 19, 'fig2-flux-colorbar');
colorbar(1863, 2400, 746, 12, degTickLabels, 735, 19, 'fig2-degree-colorbar');
colorbar(3550, 4114, 403, 16, fluxTickLabels, 394, 20, 'fig3-flux-colorbar');

// ---------------- MAP PANELS (Fig 2 & Fig 3) ----------------
let clipN = 0;
function mapPanel(o) {
  const X = v => o.x0 + v * o.s, Y = v => o.y0 - v * o.s;
  const g = mk('g', {});
  
  
  const bg = mk('rect', {x: o.left, y: o.top, width: o.right - o.left, height: o.bottom - o.top, fill: '#000'}, g);
  
  
  const cid = 'clp' + (clipN++);
  const cp = mk('clipPath', {id: cid}, g);
  mk('rect', {x: o.left, y: o.top, width: o.right - o.left, height: o.bottom - o.top}, cp);
  const cg = mk('g', {'clip-path': 'url(#' + cid + ')'}, g);
  clouds.forEach((c, i) => {
    const cx = X(projDist[i]), cy = Y(offsetY[i]), r = cloudRadius[i] * o.s;
    const col = o.mode === 'degree' ? cmap(polDeg[i] / 100) : cmap(polFlux[i] / 5e-6);
    const el = mk('ellipse', {cx: cx, cy: cy, rx: r, ry: r * 1.05, fill: col, opacity: o.mode === 'angle' ? 0.75 : 0.95}, cg);
    
    
    if (o.mode === 'dots') {
      mk('ellipse', {cx: cx, cy: cy, rx: r, ry: r * 1.05, fill: 'url(#dots)'}, cg);
    }
    if (o.mode === 'angle') {
      const L = 3 + polDeg[i] * 0.1, a = polAngle[i] * Math.PI / 180;
      for (let gx = cx - r; gx <= cx + r; gx += 3) for (let gy = cy - r; gy <= cy + r; gy += 3) {
        if ((gx - cx) ** 2 + (gy - cy) ** 2 > r * r) continue;
        mk('line', {x1: gx - Math.cos(a) * L / 2, y1: gy + Math.sin(a) * L / 2, x2: gx + Math.cos(a) * L / 2, y2: gy - Math.sin(a) * L / 2, stroke: '#fff', 'stroke-width': 0.7, opacity: 0.85}, cg);
      }
    }
  });
  if (o.lines) {
    detectIdx.forEach((ci, k) => {
      const xc = projDist[ci], yc = offsetY[ci];
      const xs = xc + (xc < 0 ? -12 : 12);
      [-1, 0, 1].forEach(sg => {
        const ang = (detectAngle[k] + sg * detectErr[k] - 90) * Math.PI / 180;
        const slope = -Math.tan(ang);
        const ln = mk('line', {x1: X(xs), y1: Y(yc + slope * (xs - xc)), x2: X(0), y2: Y(yc + slope * (0 - xc)), stroke: detectColor[k], 'stroke-width': sg === 0 ? 2 : 1.3, 'stroke-dasharray': sg === 0 ? '8,3,2,3' : 'none'}, cg);
        
        
      });
    });
  }
  const st = txt(X(0), Y(0) + 5, '★', {'font-size': 11, fill: '#ffff00', 'text-anchor': 'middle'}, g);
  
  
  for (let v = -100; v <= 100; v += 10) {
    const big = v % 50 === 0 ? 9 : 5;
    mk('line', {x1: X(v), x2: X(v), y1: o.bottom, y2: o.bottom + big, stroke: '#222', 'stroke-width': 1}, g);
  }
  for (let a = -45; a <= 45; a += 5) {
    const big = a % 20 === 0 ? 9 : 5;
    mk('line', {x1: X(a * pcPerArcmin), x2: X(a * pcPerArcmin), y1: o.top, y2: o.top - big, stroke: '#222', 'stroke-width': 1}, g);
  }
  for (let v = -20; v <= 20; v += 10) {
    mk('line', {x1: o.left, x2: o.left - (v % 20 === 0 ? 8 : 5), y1: Y(v), y2: Y(v), stroke: '#222', 'stroke-width': 1}, g);
  }
  yArcTicks.forEach(a => {
    mk('line', {x1: o.right, x2: o.right + 8, y1: Y(a * pcPerArcmin), y2: Y(a * pcPerArcmin), stroke: '#222', 'stroke-width': 1}, g);
    const t = txt(o.right + 12, Y(a * pcPerArcmin) + 7, a < 0 ? '−' + (-a) : String(a), {'font-size': o.fs, 'font-family': SERIF, fill: '#111'}, g);
    
    
  });
  yPcTicks.forEach(v => {
    const t = txt(o.left - 12, Y(v) + 7, v < 0 ? '−' + (-v) : String(v), {'font-size': o.fs, 'font-family': SERIF, 'text-anchor': 'end', fill: '#111'}, g);
    
    
  });
  const yl = txt(0, 0, 'Offset y (pc)', {'font-size': o.fs, 'font-family': SERIF, 'font-style': 'italic', 'text-anchor': 'middle', transform: 'translate(' + o.ylx + ',' + (o.top + o.bottom) / 2 + ') rotate(-90)'}, g);
  
  
  const yr = txt(0, 0, 'Offset y (arcmin)', {'font-size': o.fs - 1, 'font-family': "Liberation Sans, sans-serif", 'font-style': 'italic', 'text-anchor': 'middle', transform: 'translate(' + o.yrx + ',' + (o.top + o.bottom) / 2 + ') rotate(-90)'}, g);
  
  
  if (o.topLabels) {
    arcTicks.forEach(a => {
      const t = txt(X(a * pcPerArcmin), o.top - 16, a < 0 ? '−' + (-a) : String(a), {'font-size': o.fs, 'font-family': SERIF, 'text-anchor': 'middle', fill: '#111'}, g);
      
      
    });
    const t = txt(X(0), o.top - 45, 'Offset x (arcmin)', {'font-size': o.fs, 'font-family': SERIF, 'font-style': 'italic', 'text-anchor': 'middle'}, g);
    
    
  }
  if (o.bottomLabels) {
    pcTicks.forEach(v => {
      const t = txt(X(v), o.bottom + 34, v < 0 ? '−' + (-v) : String(v), {'font-size': o.fs, 'font-family': SERIF, 'text-anchor': 'middle', fill: '#111'}, g);
      
      
    });
    const t = txt(X(0), o.bottom + 52, 'Offset x (pc)', {'font-size': o.fs, 'font-family': SERIF, 'font-style': 'italic', 'text-anchor': 'middle'}, g);
    
    
  }
  return {g: g, X: X, Y: Y};
}
const panelTops = [208, 363, 518, 839];
const panelModes = ['dots', 'flux', 'angle', 'degree'];
const panelNames = ['fig2-combined-map', 'fig2-polarized-flux-map', 'fig2-angle-map', 'fig2-degree-map'];
panelTops.forEach((t, k) => {
  mapPanel({left: 1863, right: 2400, top: t, bottom: t + 120, x0: 2132, y0: t + 60, s: 2.5, mode: panelModes[k], name: panelNames[k], fs: 19, ylx: 1800, yrx: 2452, topLabels: k === 0 || k === 3, bottomLabels: k === 2 || k === 3});
});
const f3 = mapPanel({left: 3550, right: 4114, top: 504, bottom: 630, x0: 3831, y0: 568, s: 2.625, mode: 'dots', name: 'fig3-polarization-map', fs: 20, ylx: 3480, yrx: 4168, topLabels: true, bottomLabels: true, lines: true});
const fov = mk('rect', {x: 4033, y: 508, width: 75, height: 76, fill: 'none', stroke: '#bbb', 'stroke-width': 1.2});


const fovl = txt(4070, 530, 'IXPE FoV', {'font-size': 14, 'font-family': SERIF, 'font-style': 'italic', fill: '#fff', 'text-anchor': 'middle'});


</script>
</body></html>
